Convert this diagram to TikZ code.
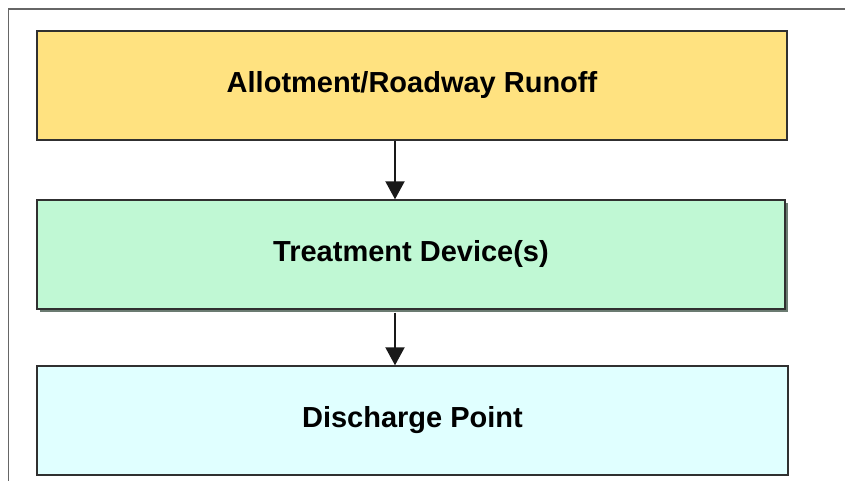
\documentclass[tikz,border=0pt]{standalone}
\usepackage{fontspec}
\setmainfont{Liberation Sans}
\usetikzlibrary{arrows.meta,shadows}
\definecolor{runoffyellow}{RGB}{255,226,128}
\definecolor{treatgreen}{RGB}{192,248,212}
\definecolor{dischargecyan}{RGB}{224,255,255}
\definecolor{edgegray}{RGB}{48,48,48}
\tikzset{stagebox/.style = {draw=edgegray, line width=1.4pt, minimum width=750pt,
    minimum height=109pt, inner sep=0pt,
    font=\fontsize{29}{32}\selectfont\bfseries},
  flow/.style = {-{Triangle[width=19pt,length=18pt]}, line width=2pt, draw=black!90}}

\begin{document}
\begin{tikzpicture}[x=1pt,y=-1pt]
    \useasboundingbox (0,0) rectangle (845,481);
    \fill[white] (0,0) rectangle (845,481);
    % frame, left and top edges only
    \draw[gray!80!black, line width=1.2pt] (8.5,481) -- (8.5,9) -- (845,9);

    \node[stagebox, fill=runoffyellow] (runoff) at (412,85.5) {Allotment/Roadway Runoff};
    \node[stagebox, fill=treatgreen, minimum width=748pt,
        drop shadow={shadow xshift=3pt, shadow yshift=-3pt, opacity=1, fill=gray!60!treatgreen!70!black}]
        (treat) at (411,254.5) {Treatment Device(s)};
    \node[stagebox, fill=dischargecyan, minimum width=751pt] (discharge) at (412.5,420.5) {Discharge Point};

    \coordinate (spine) at (395,0);
    \draw[flow] (runoff.south -| spine) -- (treat.north -| spine);
    \draw[flow] ([yshift=-3pt]treat.south -| spine) -- (discharge.north -| spine);
\end{tikzpicture}
\end{document}
